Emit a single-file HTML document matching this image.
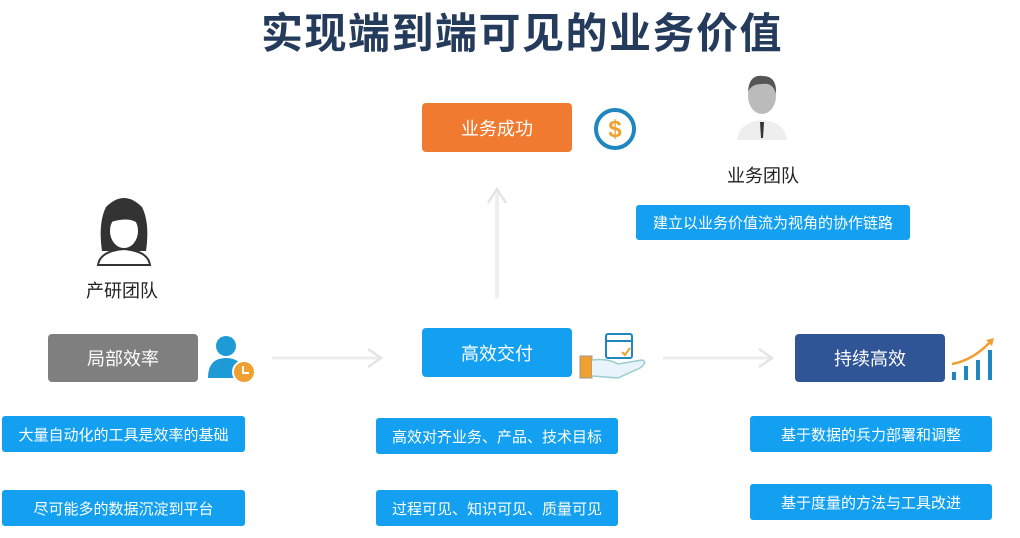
<!DOCTYPE html>
<html><head><meta charset="utf-8"><style>
body{margin:0;width:1020px;height:538px;background:#fff;position:relative;overflow:hidden;font-family:"Liberation Sans","Noto Sans CJK SC",sans-serif}
.a{position:absolute}
.t{position:absolute;left:12px;width:1020px;top:0px;text-align:center;font-size:42px;font-weight:bold;color:#243b5c;letter-spacing:1.5px}
.b{position:absolute;display:flex;align-items:center;justify-content:center;color:#fff;border-radius:4px}
.k{font-size:18px}
.s{font-size:15px;background:#14a0f0;border-radius:3px}
.l{position:absolute;font-size:18px;color:#222;text-align:center}
</style></head><body>
<div class="t">实现端到端可见的业务价值</div>

<div class="b k" style="left:422px;top:103px;width:150px;height:49px;background:#ef7a30">业务成功</div>
<svg class="a" style="left:592px;top:106px" width="46" height="46"><circle cx="23" cy="23" r="19" fill="none" stroke="#1f86c0" stroke-width="4"/><text x="23" y="31" text-anchor="middle" font-size="24" font-weight="bold" fill="#f0a030" font-family="Liberation Sans">$</text></svg>

<svg class="a" style="left:735px;top:70px" width="60" height="72"><ellipse cx="27" cy="26" rx="14" ry="18" fill="#bbb"/><path d="M13 22 Q14 4 28 6 Q42 6 41 24 Q38 12 27 14 Q16 14 13 22Z" fill="#555"/><path d="M2 70 Q4 52 27 50 Q50 52 52 70Z" fill="#eee"/><path d="M25 52 L29 52 L28 68 L26 68Z" fill="#333"/></svg>
<div class="l" style="left:713px;top:162px;width:100px">业务团队</div>
<div class="b s" style="left:636px;top:205px;width:274px;height:35px">建立以业务价值流为视角的协作链路</div>

<svg class="a" style="left:94px;top:193px" width="60" height="74"><path d="M8 58 Q4 30 12 14 Q30 -4 48 14 Q56 30 52 58Z" fill="#333"/><ellipse cx="30" cy="38" rx="15" ry="18" fill="#fff" stroke="#333" stroke-width="2"/><path d="M14 30 Q20 16 40 20 Q46 26 46 32 Q36 22 14 30Z" fill="#333"/><path d="M4 72 Q6 58 30 56 Q54 58 56 72Z" fill="#fff" stroke="#333" stroke-width="2"/></svg>
<div class="l" style="left:72px;top:277px;width:100px">产研团队</div>

<div class="b k" style="left:48px;top:334px;width:150px;height:48px;background:#7f7f7f">局部效率</div>
<svg class="a" style="left:206px;top:334px" width="54" height="52"><circle cx="20" cy="12" r="10" fill="#1e9ad6"/><path d="M2 44 Q2 24 20 24 Q36 24 38 40 L38 44Z" fill="#1e9ad6"/><circle cx="38" cy="38" r="11" fill="#f0a030" stroke="#fff" stroke-width="2"/><path d="M37 32 V39 H43" stroke="#fff" stroke-width="2" fill="none"/></svg>

<svg class="a" style="left:268px;top:345px" width="120" height="26"><line x1="4" y1="13" x2="112" y2="13" stroke="#ececec" stroke-width="3"/><path d="M100 4 L113 13 L100 22" stroke="#e4e4e4" stroke-width="2.5" fill="none"/></svg>
<svg class="a" style="left:659px;top:345px" width="120" height="26"><line x1="4" y1="13" x2="112" y2="13" stroke="#ececec" stroke-width="3"/><path d="M100 4 L113 13 L100 22" stroke="#e4e4e4" stroke-width="2.5" fill="none"/></svg>
<svg class="a" style="left:484px;top:184px" width="26" height="118"><line x1="13" y1="6" x2="13" y2="114" stroke="#efefef" stroke-width="4"/><path d="M4 19 L13 5 L22 19" stroke="#e4e4e4" stroke-width="2.5" fill="none"/></svg>

<div class="b k" style="left:422px;top:328px;width:150px;height:49px;background:#14a0f0">高效交付</div>
<svg class="a" style="left:578px;top:330px" width="72" height="52"><rect x="28" y="4" width="26" height="24" rx="2" fill="none" stroke="#1f86c0" stroke-width="2"/><line x1="28" y1="11" x2="54" y2="11" stroke="#1f86c0" stroke-width="2"/><path d="M44 22 L47 25 L52 18" stroke="#f0a030" stroke-width="2" fill="none"/><rect x="2" y="26" width="12" height="22" fill="#f0a030" stroke="#999"/><path d="M14 30 Q30 28 40 34 L64 30 Q70 32 62 38 L40 48 L14 46" fill="#e8f3fb" stroke="#9cc" stroke-width="1.5"/></svg>

<div class="b k" style="left:795px;top:334px;width:150px;height:48px;background:#2f5597">持续高效</div>
<svg class="a" style="left:948px;top:334px" width="52" height="50"><rect x="4" y="38" width="4" height="8" fill="#1f86c0"/><rect x="16" y="32" width="4" height="14" fill="#1f86c0"/><rect x="28" y="26" width="4" height="20" fill="#1f86c0"/><rect x="40" y="16" width="4" height="30" fill="#1f86c0"/><path d="M4 30 Q26 26 44 6" stroke="#f0a030" stroke-width="2.5" fill="none"/><path d="M38 6 L46 4 L44 12Z" fill="#f0a030"/></svg>

<div class="b s" style="left:2px;top:416px;width:243px;height:36px">大量自动化的工具是效率的基础</div>
<div class="b s" style="left:2px;top:490px;width:243px;height:36px">尽可能多的数据沉淀到平台</div>
<div class="b s" style="left:376px;top:418px;width:242px;height:36px">高效对齐业务、产品、技术目标</div>
<div class="b s" style="left:376px;top:490px;width:242px;height:36px">过程可见、知识可见、质量可见</div>
<div class="b s" style="left:750px;top:416px;width:242px;height:36px">基于数据的兵力部署和调整</div>
<div class="b s" style="left:750px;top:484px;width:242px;height:36px">基于度量的方法与工具改进</div>
</body></html>
